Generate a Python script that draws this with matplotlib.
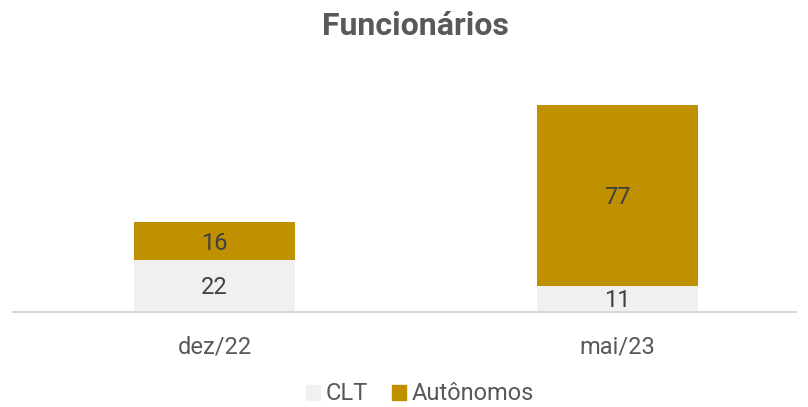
import matplotlib
matplotlib.use("Agg")
import matplotlib.pyplot as plt
from matplotlib.patches import Patch

categories = ["dez/22", "mai/23"]
clt = [22, 11]
autonomos = [16, 77]
series_names = ["CLT", "Autônomos"]
title = "Funcionários"

plt.rcParams['font.family'] = ['Roboto', 'DejaVu Sans']

fig = plt.figure(figsize=(8.08, 4.07), dpi=100)
ax = fig.add_axes([13/808, 1-311.5/407, 783/808, 211.5/407])

x = list(range(len(categories)))
c_clt = "#F0F0F0"
c_aut = "#BF9000"
w = 0.4
ax.bar(x, clt, width=w, color=c_clt)
ax.bar(x, autonomos, width=w, bottom=clt, color=c_aut)

for i in x:
    ax.annotate(str(clt[i]), (i, clt[i]/2), xytext=(0, -1.5), textcoords="offset points",
                ha="center", va="center", fontsize=17, color="#404040")
    ax.annotate(str(autonomos[i]), (i, clt[i] + autonomos[i]/2), xytext=(0, -1.5), textcoords="offset points",
                ha="center", va="center", fontsize=17, color="#404040")

ax.set_xlim(-0.5, -0.5 + 783/403)
ax.set_ylim(0, 90)
for s in ["top", "right", "left"]:
    ax.spines[s].set_visible(False)
ax.spines["bottom"].set_color("#D9D9D9")
ax.spines["bottom"].set_linewidth(1.5)
ax.set_yticks([])
ax.set_xticks(x)
ax.set_xticklabels(categories, fontsize=17, color="#595959")
ax.tick_params(axis="x", length=0, pad=17)

fig.text(415/808, 1-26/407, title, ha="center", va="center", fontsize=23, fontweight="bold", color="#595959")

handles = [Patch(color=c_clt, label=series_names[0]), Patch(color=c_aut, label=series_names[1])]
fig.legend(handles=handles, loc="center", bbox_to_anchor=(420/808, 1-394/407), ncol=2, frameon=False,
           fontsize=17, labelcolor="#595959", handlelength=0.6, handleheight=0.6, handletextpad=0.25,
           columnspacing=1.0)

fig.savefig("out.png", dpi=100)
